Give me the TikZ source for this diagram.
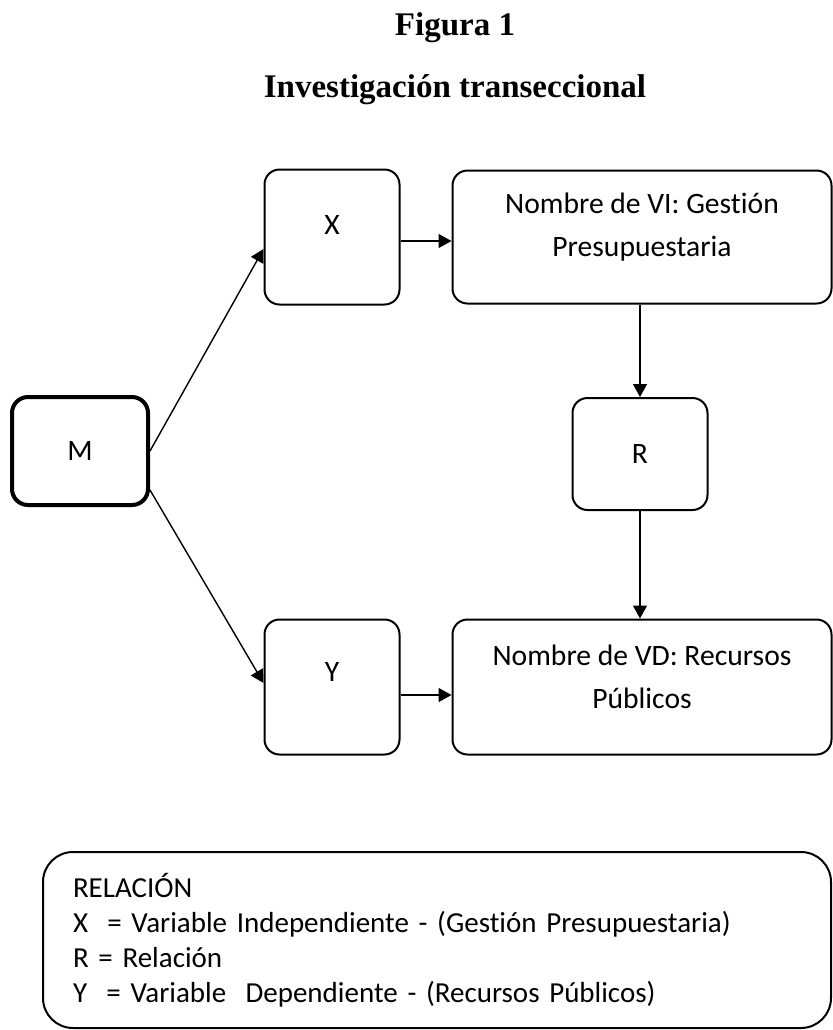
\documentclass[tikz,border=0pt]{standalone}
\usepackage{fontspec}
\setmainfont{Carlito}[Ligatures=NoCommon]
\newfontfamily\legendfont{Carlito}[Ligatures=NoCommon, WordSpace=0.8]
\newfontfamily\titlefont{Liberation Serif}
\usetikzlibrary{arrows.meta}

\begin{document}
\begin{tikzpicture}[x=0.5pt, y=-0.5pt, >={Triangle[length=6.5pt,width=7pt]},
    box/.style={draw, line width=1pt, rounded corners=7.5pt, inner sep=0pt},
    boxtext/.style={font=\fontsize{14.8}{21.5}\selectfont, align=center},
    titletext/.style={font=\titlefont\bfseries\fontsize{16.5}{19}\selectfont},
    every label/.style={boxtext}]

    \useasboundingbox (0,0) rectangle (833,1030);

    % Title
    \node[titletext] (fig) at (455,28) {Figura 1};
    \node[titletext] (tit) at (455,90) {Investigación transeccional};

    % Define the boxes (sample, variables, relation)
    \node[box, line width=2pt, rounded corners=8pt, minimum width=68pt, minimum height=54pt,
          label={center:M}] (M) at (80,451) {};
    \node[box, minimum width=67.5pt, minimum height=67.5pt,
          label={[yshift=6pt]center:X}] (X) at (332,237) {};
    \node[box, minimum width=189.5pt, minimum height=66.5pt,
          label={[yshift=5pt]center:Nombre de VI: Gestión\\Presupuestaria}] (VI) at (642,237) {};
    \node[box, minimum width=67.5pt, minimum height=56pt,
          label={center:R}] (R) at (640,454) {};
    \node[box, minimum width=67.5pt, minimum height=67.5pt,
          label={[yshift=7.5pt]center:Y}] (Y) at (332,687) {};
    \node[box, minimum width=189.5pt, minimum height=67.5pt,
          label={[yshift=5pt]center:Nombre de VD: Recursos\\Públicos}] (VD) at (642,687) {};

    % Legend
    \node[box, rounded corners=15pt, minimum width=394pt, minimum height=88pt,
          inner xsep=15pt, text width=364pt, align=left,
          font=\legendfont\fontsize{14.5}{17.5}\selectfont] (leg) at (437,940)
          {RELACIÓN\\X \ = Variable Independiente - (Gestión Presupuestaria)\\R = Relación\\Y \ = Variable \ Dependiente - (Recursos Públicos)};

    % Draw the arrows
    \draw[->, line width=0.7pt] (M.east) -- ([yshift=-6pt]X.west);
    \draw[->, line width=0.7pt] ([yshift=-19.5pt]M.east) -- ([yshift=2pt]Y.west);

    \draw[->, line width=0.7pt] ([yshift=-2pt]X.east) -- ([yshift=-2pt]VI.west);
    \draw[->, line width=0.7pt] ([yshift=-4pt]Y.east) -- ([yshift=-4pt]VD.west);

    \draw[->, line width=0.7pt] (VI.south -| R.north) -- (R.north);
    \draw[->, line width=0.7pt] (R.south) -- (R.south |- VD.north);

\end{tikzpicture}
\end{document}
